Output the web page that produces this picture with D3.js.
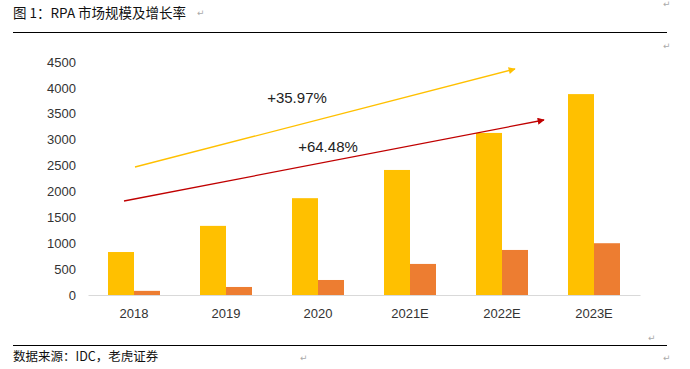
<!DOCTYPE html>
<html>
<head>
<meta charset="utf-8">
<script src="https://cdn.jsdelivr.net/npm/d3@7"></script>
<style>
  body { margin: 0; background: #fff; }
  svg { display: block; }
</style>
</head>
<body>
<svg id="chart" width="690" height="369"></svg>
<script>
// RPA market size and growth
var years = ['2018', '2019', '2020', '2021E', '2022E', '2023E'];
var seriesA = [830, 1335, 1870, 2415, 3130, 3880];
var seriesB = [80, 155, 290, 600, 870, 1000];
var yTicks = [0, 500, 1000, 1500, 2000, 2500, 3000, 3500, 4000, 4500];
var growthLabels = ['+35.97%', '+64.48%'];

var colors = ['#FFC000', '#ED7D31'];

var svg = d3.select('#chart');

// header / footer text (document style)
svg.append('text')
  .attr('x', 13).attr('y', 18)
  .style('font-family', '"Noto Sans CJK SC", sans-serif')
  .style('font-size', '13.5px')
  .style('fill', '#111')
  .text('图 1：RPA 市场规模及增长率');

svg.append('line')
  .attr('x1', 13).attr('x2', 667).attr('y1', 32.5).attr('y2', 32.5)
  .style('stroke', '#000').style('stroke-width', 1);

svg.append('line')
  .attr('x1', 13).attr('x2', 667).attr('y1', 345.5).attr('y2', 345.5)
  .style('stroke', '#000').style('stroke-width', 1);

svg.append('text')
  .attr('x', 13).attr('y', 361)
  .style('font-family', '"Noto Sans CJK SC", sans-serif')
  .style('font-size', '12.5px')
  .style('fill', '#111')
  .text('数据来源：IDC，老虎证券');

// paragraph marks
var marks = [[197, 16], [663, 7], [663, 49], [648, 341], [300, 361], [663, 361]];
svg.selectAll('.mark')
  .data(marks)
  .join('text')
  .attr('class', 'mark')
  .attr('x', function(d) { return d[0]; })
  .attr('y', function(d) { return d[1]; })
  .style('font-family', 'DejaVu Sans')
  .style('font-size', '9px')
  .style('fill', '#aaa')
  .text('\u21B5');

// chart area
var x0 = d3.scaleBand().domain(years).range([88, 640]);
var x1 = d3.scaleBand().domain([0, 1]).range([x0.bandwidth() / 2 - 26, x0.bandwidth() / 2 + 26]);
var y = d3.scaleLinear().domain([0, 4500]).range([295, 62]);

var yAxis = d3.axisLeft(y).tickValues(yTicks).tickFormat(d3.format('d')).tickSize(0).tickPadding(0);
var gy = svg.append('g').attr('transform', 'translate(76,0)').call(yAxis);
gy.select('.domain').remove();
gy.selectAll('text')
  .style('font-family', '"Liberation Sans", Arial, sans-serif')
  .style('font-size', '13px')
  .style('fill', '#333');

var xAxis = d3.axisBottom(x0).tickSize(0).tickPadding(14);
var gx = svg.append('g').attr('transform', 'translate(0,295)').call(xAxis);
gx.select('.domain').style('stroke', '#d9d9d9');
gx.selectAll('text')
  .style('font-family', '"Liberation Sans", Arial, sans-serif')
  .style('font-size', '13px')
  .style('fill', '#333');

var rows = years.map(function(yr, i) { return {year: yr, vals: [seriesA[i], seriesB[i]]}; });

svg.append('g')
  .selectAll('g')
  .data(rows)
  .join('g')
  .attr('transform', function(d) { return 'translate(' + x0(d.year) + ',0)'; })
  .selectAll('rect')
  .data(function(d) { return d.vals; })
  .join('rect')
  .attr('x', function(d, i) { return x1(i); })
  .attr('width', x1.bandwidth())
  .attr('y', function(d) { return y(d); })
  .attr('height', function(d) { return 295 - y(d); })
  .style('fill', function(d, i) { return colors[i]; });

// growth arrows
var defs = svg.append('defs');
var arrowColors = ['#FFC000', '#C00000'];
arrowColors.forEach(function(c, i) {
  defs.append('marker')
    .attr('id', 'arr' + i)
    .attr('viewBox', '0 0 10 10')
    .attr('refX', 9).attr('refY', 5)
    .attr('markerWidth', 8).attr('markerHeight', 7)
    .attr('markerUnits', 'userSpaceOnUse')
    .attr('orient', 'auto')
    .append('path')
    .attr('d', 'M0,0L10,5L0,10Z')
    .style('fill', c);
});

var arrows = [
  {x1: 135, y1: 167, x2: 515, y2: 69},
  {x1: 124, y1: 201, x2: 544, y2: 120}
];
svg.selectAll('.arrow')
  .data(arrows)
  .join('line')
  .attr('class', 'arrow')
  .attr('x1', function(d) { return d.x1; })
  .attr('y1', function(d) { return d.y1; })
  .attr('x2', function(d) { return d.x2; })
  .attr('y2', function(d) { return d.y2; })
  .style('stroke', function(d, i) { return arrowColors[i]; })
  .style('stroke-width', 1.3)
  .attr('marker-end', function(d, i) { return 'url(#arr' + i + ')'; });

svg.selectAll('.glabel')
  .data(growthLabels)
  .join('text')
  .attr('class', 'glabel')
  .attr('x', function(d, i) { return i === 0 ? 297 : 328; })
  .attr('y', function(d, i) { return i === 0 ? 103 : 152; })
  .attr('text-anchor', 'middle')
  .style('font-family', '"Liberation Sans", Arial, sans-serif')
  .style('font-size', '15px')
  .style('fill', '#222')
  .text(function(d) { return d; });
</script>
</body>
</html>
